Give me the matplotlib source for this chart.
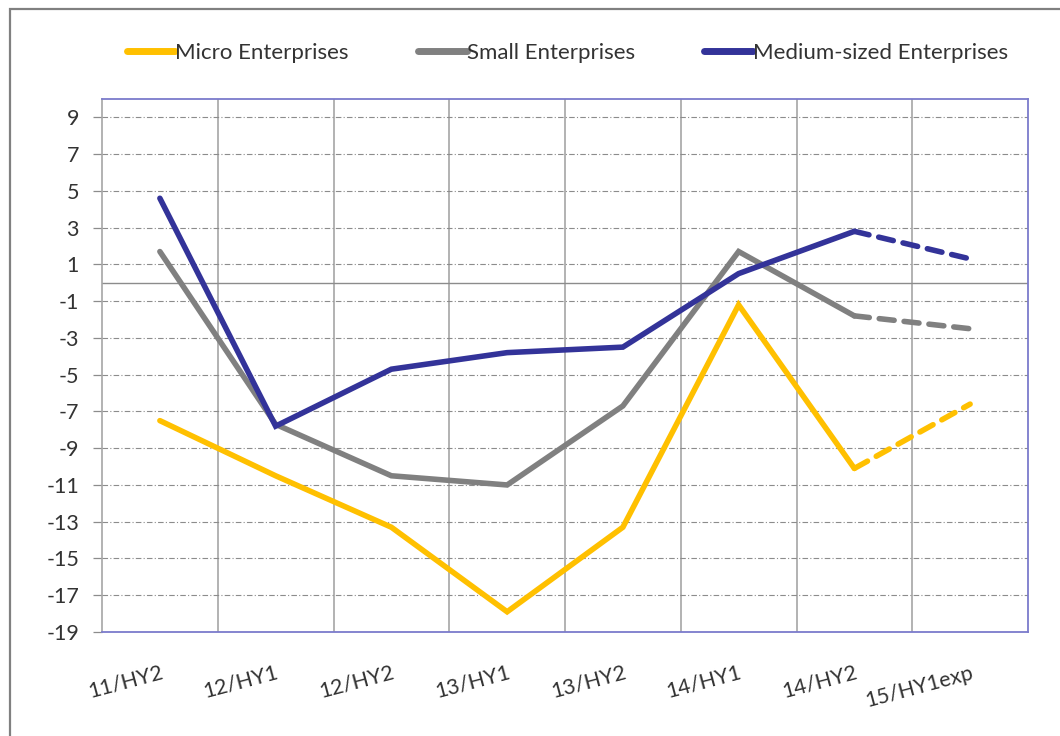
import numpy as np
import matplotlib
matplotlib.use('Agg')
import matplotlib.pyplot as plt
from matplotlib.patches import Rectangle

plt.rcParams['font.family'] = ['Lato', 'DejaVu Sans']

################################ data ##########################################
periods = ['11/HY2', '12/HY1', '12/HY2', '13/HY1', '13/HY2', '14/HY1', '14/HY2', '15/HY1exp']
micro = [-7.5, -10.5, -13.3, -17.9, -13.3, -1.2, -10.1, -6.6]
small = [1.7, -7.7, -10.5, -11.0, -6.7, 1.7, -1.8, -2.5]
medium = [4.6, -7.8, -4.7, -3.8, -3.5, 0.5, 2.8, 1.3]
y_ticks = list(range(-19, 10, 2))

series = [('Micro Enterprises', micro, '#FFC000'),
          ('Small Enterprises', small, '#808080'),
          ('Medium-sized Enterprises', medium, '#333399')]

################################ plot ##########################################
fig = plt.figure(figsize=(10.6, 7.36), dpi=100)
ax = fig.add_axes([102/1060, 1-632/736, (1028-102)/1060, (632-99)/736])

x = np.arange(len(periods))
lw = 4.0
handles = []
for name, vals, col in series:
    # actual values solid, last (expected) step dashed
    h, = ax.plot(x[:-1], vals[:-1], color=col, lw=lw, solid_capstyle='round',
                 solid_joinstyle='miter', label=name, zorder=3)
    ax.plot(x[-2:], vals[-2:], color=col, lw=lw, linestyle=(0, (2.7, 1.8)),
            dash_capstyle='round', zorder=3)
    handles.append(h)

ax.set_xlim(-0.5, len(periods) - 0.5)
ax.set_ylim(-19, 10)
ax.axhline(0, color='#8c8c8c', lw=1.0, zorder=2)

# grid
ax.set_yticks(y_ticks)
ax.set_yticklabels([str(v) for v in y_ticks], fontsize=15.5, color='#333333')
ax.yaxis.grid(True, color='#8c8c8c', lw=0.8, linestyle=(0, (5, 2, 1, 2)))
ax.set_xticks(x)
ax.set_xticks(np.arange(0.5, len(periods) - 1, 1.0), minor=True)
ax.xaxis.grid(True, which='minor', color='#a6a6a6', lw=1.2, linestyle='-')
ax.set_axisbelow(True)

ax.set_xticklabels(periods, fontsize=15.5, rotation=15, ha='right', va='top',
                   rotation_mode='anchor', color='#333333')
ax.tick_params(axis='x', which='both', length=0, pad=22)
ax.tick_params(axis='y', length=6.5, width=0.9, color='#8c8c8c', pad=10)

for s in ['top', 'bottom', 'right']:
    ax.spines[s].set_color('#7b7bcc')
    ax.spines[s].set_linewidth(1.3)
ax.spines['left'].set_color('#a6a6a6')
ax.spines['left'].set_linewidth(1.2)

leg = fig.legend(handles=handles, loc='center', bbox_to_anchor=(0.535, 1-53/736),
                 ncol=3, frameon=False, fontsize=16,
                 handlelength=2.2, handletextpad=0.0, columnspacing=3.1)
for t in leg.get_texts():
    t.set_color('#333333')
for l in leg.get_lines():
    l.set_linewidth(5)

# outer frame
fig.patches.append(Rectangle((10/1060, -0.1), 1.2, 0.1 + 1 - 9/736,
                             transform=fig.transFigure, fill=False,
                             edgecolor='#808080', lw=1.6))

plt.savefig('out.png', dpi=100)
